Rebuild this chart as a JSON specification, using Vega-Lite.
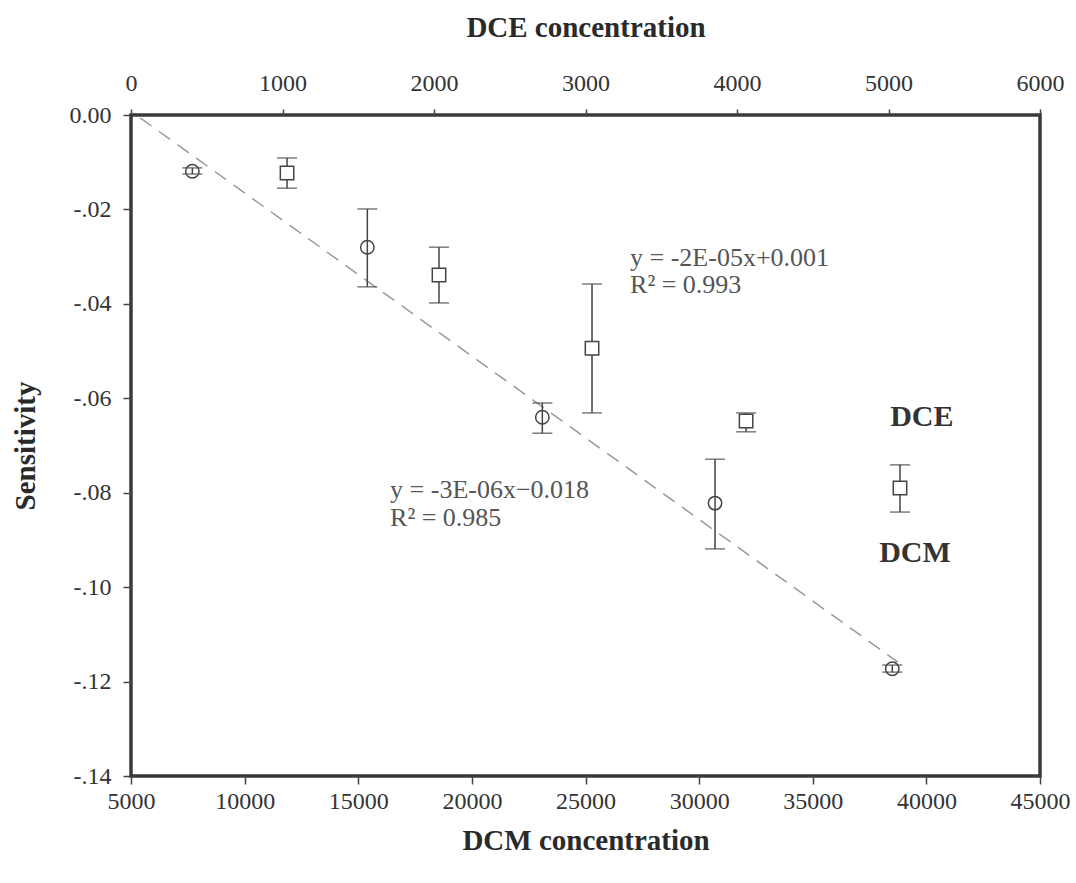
{
  "$schema": "https://vega.github.io/schema/vega-lite/v6.json",
  "width": 909,
  "height": 661,
  "autosize": {"type": "none"},
  "padding": {"left": 131, "top": 115, "right": 36, "bottom": 107},
  "background": "white",
  "config": {
    "font": "Liberation Serif",
    "view": {"stroke": "#3a3a3a", "strokeWidth": 3.5},
    "axis": {
      "grid": false,
      "domain": false,
      "labelFlush": false,
      "labelOverlap": false,
      "tickColor": "#444",
      "tickWidth": 1.5,
      "labelColor": "#333",
      "labelFont": "Liberation Serif",
      "labelFontSize": 24,
      "titleFont": "Liberation Serif",
      "titleFontSize": 29,
      "titleFontWeight": "bold",
      "titleColor": "#2a2a2a"
    }
  },
  "datasets": {
    "dcm": [
      {"c": 7700, "s": -0.0119, "lo": -0.0125, "hi": -0.0112},
      {"c": 15400, "s": -0.0280, "lo": -0.0364, "hi": -0.0199},
      {"c": 23100, "s": -0.0640, "lo": -0.0674, "hi": -0.0610},
      {"c": 30700, "s": -0.0822, "lo": -0.0919, "hi": -0.0729},
      {"c": 38500, "s": -0.1173, "lo": -0.1180, "hi": -0.1165}
    ],
    "dce": [
      {"c": 1030, "s": -0.0123, "lo": -0.0155, "hi": -0.0091},
      {"c": 2033, "s": -0.0339, "lo": -0.0398, "hi": -0.0280},
      {"c": 3043, "s": -0.0494, "lo": -0.0631, "hi": -0.0358},
      {"c": 4060, "s": -0.0648, "lo": -0.0671, "hi": -0.0631},
      {"c": 5076, "s": -0.0790, "lo": -0.0841, "hi": -0.0741}
    ],
    "trend": [
      {"c": 5400, "s": -0.0006},
      {"c": 38750, "s": -0.1159}
    ],
    "eq": [
      {"c": 26960, "s": -0.0303, "t": "y = -2E-05x+0.001"},
      {"c": 26960, "s": -0.0360, "t": "R² = 0.993"},
      {"c": 16400, "s": -0.0794, "t": "y = -3E-06x−0.018"},
      {"c": 16400, "s": -0.0854, "t": "R² = 0.985"}
    ],
    "names": [
      {"c": 39800, "s": -0.0640, "t": "DCE"},
      {"c": 39500, "s": -0.0928, "t": "DCM"}
    ]
  },
  "layer": [
    {
      "layer": [
        {
          "data": {"name": "trend"},
          "mark": {"type": "line", "color": "#9a9a9a", "strokeWidth": 1.5, "strokeDash": [14, 9]},
          "encoding": {
            "x": {"field": "c", "type": "quantitative", "title": "DCM concentration", "scale": {"domain": [5000, 45000], "nice": false, "zero": false},
                  "axis": {"orient": "bottom", "values": [5000,10000,15000,20000,25000,30000,35000,40000,45000], "format": "d", "tickSize": 8, "labelPadding": 5, "titleX": 454.5, "titleY": 64, "titleBaseline": "middle"}},
            "y": {"field": "s", "type": "quantitative", "title": "Sensitivity", "scale": {"domain": [-0.14, 0], "nice": false},
                  "axis": {"values": [0, -0.02, -0.04, -0.06, -0.08, -0.1, -0.12, -0.14], "labelExpr": "datum.value == 0 ? '0.00' : '-.' + format(round(abs(datum.value) * 100), '02d')", "tickSize": 8, "labelPadding": 12, "titleX": -106, "titleY": 330.5, "titleBaseline": "middle", "titleAlign": "center", "titleAngle": 270}}
          }
        },
        {
          "data": {"name": "dcm"},
          "mark": {"type": "rule", "color": "#444", "strokeWidth": 1.5},
          "encoding": {
            "x": {"field": "c", "type": "quantitative", "title": "DCM concentration"},
            "y": {"field": "lo", "type": "quantitative", "title": "Sensitivity"},
            "y2": {"field": "hi"}
          }
        },
        {
          "data": {"name": "dcm"},
          "mark": {"type": "tick", "orient": "horizontal", "color": "#444", "size": 20, "thickness": 1.5},
          "encoding": {
            "x": {"field": "c", "type": "quantitative", "title": "DCM concentration"},
            "y": {"field": "lo", "type": "quantitative", "title": "Sensitivity"}
          }
        },
        {
          "data": {"name": "dcm"},
          "mark": {"type": "tick", "orient": "horizontal", "color": "#444", "size": 20, "thickness": 1.5},
          "encoding": {
            "x": {"field": "c", "type": "quantitative", "title": "DCM concentration"},
            "y": {"field": "hi", "type": "quantitative", "title": "Sensitivity"}
          }
        },
        {
          "data": {"name": "dcm"},
          "mark": {"type": "point", "shape": "circle", "filled": false, "stroke": "#444", "strokeWidth": 1.5, "size": 180, "opacity": 1},
          "encoding": {
            "x": {"field": "c", "type": "quantitative", "title": "DCM concentration"},
            "y": {"field": "s", "type": "quantitative", "title": "Sensitivity"}
          }
        },
        {
          "data": {"name": "eq"},
          "mark": {"type": "text", "align": "left", "baseline": "middle", "fontSize": 26, "color": "#555", "font": "Liberation Serif"},
          "encoding": {
            "x": {"field": "c", "type": "quantitative", "title": "DCM concentration"},
            "y": {"field": "s", "type": "quantitative", "title": "Sensitivity"},
            "text": {"field": "t"}
          }
        },
        {
          "data": {"name": "names"},
          "mark": {"type": "text", "align": "center", "baseline": "middle", "fontSize": 30, "fontWeight": "bold", "color": "#333", "font": "Liberation Serif"},
          "encoding": {
            "x": {"field": "c", "type": "quantitative", "title": "DCM concentration"},
            "y": {"field": "s", "type": "quantitative", "title": "Sensitivity"},
            "text": {"field": "t"}
          }
        }
      ]
    },
    {
      "layer": [
        {
          "data": {"name": "dce"},
          "mark": {"type": "rule", "color": "#444", "strokeWidth": 1.5},
          "encoding": {
            "x": {"field": "c", "type": "quantitative", "title": "DCE concentration", "scale": {"domain": [0, 6000], "nice": false},
                  "axis": {"orient": "top", "values": [0,1000,2000,3000,4000,5000,6000], "format": "d", "tickSize": 6, "labelPadding": 14, "titleX": 454.5, "titleY": -88, "titleBaseline": "middle"}},
            "y": {"field": "lo", "type": "quantitative", "title": "Sensitivity"},
            "y2": {"field": "hi"}
          }
        },
        {
          "data": {"name": "dce"},
          "mark": {"type": "tick", "orient": "horizontal", "color": "#444", "size": 20, "thickness": 1.5},
          "encoding": {
            "x": {"field": "c", "type": "quantitative", "title": "DCE concentration"},
            "y": {"field": "lo", "type": "quantitative", "title": "Sensitivity"}
          }
        },
        {
          "data": {"name": "dce"},
          "mark": {"type": "tick", "orient": "horizontal", "color": "#444", "size": 20, "thickness": 1.5},
          "encoding": {
            "x": {"field": "c", "type": "quantitative", "title": "DCE concentration"},
            "y": {"field": "hi", "type": "quantitative", "title": "Sensitivity"}
          }
        },
        {
          "data": {"name": "dce"},
          "mark": {"type": "point", "shape": "square", "filled": true, "fill": "white", "stroke": "#444", "strokeWidth": 1.5, "size": 180, "opacity": 1},
          "encoding": {
            "x": {"field": "c", "type": "quantitative", "title": "DCE concentration"},
            "y": {"field": "s", "type": "quantitative", "title": "Sensitivity"}
          }
        }
      ]
    }
  ],
  "resolve": {"scale": {"x": "independent"}, "axis": {"x": "independent"}}
}
